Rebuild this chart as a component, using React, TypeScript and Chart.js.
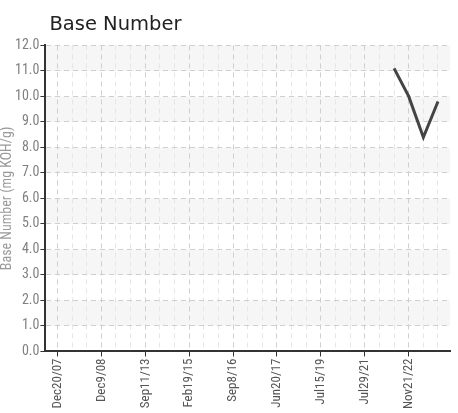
import React, { useEffect, useRef } from "react";
import { Chart, registerables } from "chart.js";

Chart.register(...registerables);

// Every third sample date carries a label
const xTickLabels = [
  "Dec20/07", "Dec9/08", "Sep11/13", "Feb19/15", "Sep8/16",
  "Jun20/17", "Jul15/19", "Jul29/21", "Nov21/22",
];
// Base Number readings per sample slot (27 slots, only last 4 have values)
const baseNumber: (number | null)[] = [
  null, null, null, null, null, null, null, null, null,
  null, null, null, null, null, null, null, null, null,
  null, null, null, null, null, 11.1, 10.0, 8.4, 9.8,
];
const yTicks = [0, 1, 2, 3, 4, 5, 6, 7, 8, 9, 10, 11, 12];

const NARROW = "Roboto, 'DejaVu Sans Condensed', sans-serif";
const NARROW_WEIGHT = "normal condensed";

const bandsPlugin = {
  id: "bands",
  afterLayout(chart: any) {
    if (chart.titleBlock) {
      chart.titleBlock.left += 4;
      chart.titleBlock.right += 4;
    }
  },
  beforeDraw(chart: any) {
    const { ctx, chartArea, scales } = chart;
    const y = scales.y;
    ctx.save();
    ctx.fillStyle = "#f6f6f6";
    for (let v = 1; v < 12; v += 2) {
      const top = y.getPixelForValue(v + 1);
      const bot = y.getPixelForValue(v);
      ctx.fillRect(chartArea.left, top, chartArea.right - chartArea.left, bot - top);
    }
    ctx.restore();
  },
};

export default function App() {
  const ref = useRef<HTMLCanvasElement | null>(null);
  useEffect(() => {
    if (!ref.current) return;
    const n = baseNumber.length;
    const chart = new Chart(ref.current, {
      type: "line",
      data: {
        datasets: [
          {
            label: "Base Number",
            data: baseNumber.map((v, i) => ({ x: i, y: v })) as any,
            borderColor: "#444444",
            borderWidth: 3,
            pointRadius: 0,
            tension: 0,
            fill: false,
          },
        ],
      },
      options: {
        animation: false,
        responsive: true,
        maintainAspectRatio: false,
        layout: { padding: { right: 8, bottom: 2, top: 4, left: 0 } },
        plugins: {
          legend: { display: false },
          tooltip: { enabled: false },
          title: {
            display: true,
            text: "Base Number",
            align: "start",
            fullSize: false,
            color: "#222",
            font: { family: "'DejaVu Sans', sans-serif", size: 19.5, weight: "normal" },
            padding: { top: 9, bottom: 9 },
          },
        },
        scales: {
          x: {
            type: "linear",
            min: -0.82,
            max: n - 1 + 0.82,
            afterBuildTicks: (scale: any) => {
              scale.ticks = baseNumber.map((_, i) => ({ value: i }));
            },
            ticks: {
              autoSkip: false,
              minRotation: 90,
              maxRotation: 90,
              padding: 2,
              color: "#555",
              font: { family: NARROW, size: 13, weight: NARROW_WEIGHT as any },
              callback: (v: any) => {
                const i = Math.round(Number(v));
                return i % 3 === 0 ? xTickLabels[i / 3] ?? "" : "";
              },
            },
            grid: {
              color: (ctx: any) => {
                const i = Math.round(ctx.tick?.value ?? 0);
                return i % 3 === 0 ? "#cfcfcf" : "#e6e6e6";
              },
              tickColor: (ctx: any) => {
                const i = Math.round(ctx.tick?.value ?? 0);
                return i % 3 === 0 ? "#333" : "rgba(0,0,0,0)";
              },
              tickLength: 5,
              lineWidth: 1,
            },
            border: { display: true, color: "#333", width: 2, dash: [5, 4] },
          },
          y: {
            type: "linear",
            min: 0,
            max: 12,
            afterBuildTicks: (scale: any) => {
              scale.ticks = yTicks.map((v) => ({ value: v }));
            },
            ticks: {
              padding: 1,
              color: "#808080",
              font: { family: NARROW, size: 14, weight: NARROW_WEIGHT as any },
              callback: (v: any) => Number(v).toFixed(1),
            },
            grid: {
              color: "#cfcfcf",
              tickColor: "#333",
              tickLength: 5,
              lineWidth: 1,
            },
            border: { display: true, color: "#333", width: 2, dash: [5, 4] },
            title: {
              display: true,
              text: "Base Number (mg KOH/g)",
              color: "#999",
              font: { family: NARROW, size: 14, weight: NARROW_WEIGHT as any, lineHeight: 1 },
              padding: { top: 0, bottom: 0 },
            },
          },
        },
      },
      plugins: [bandsPlugin],
    });
    return () => chart.destroy();
  }, []);
  return (
    <div style={{ position: "fixed", left: 0, top: 0, width: "458px", height: "413px" }}>
      <canvas ref={ref} />
    </div>
  );
}
